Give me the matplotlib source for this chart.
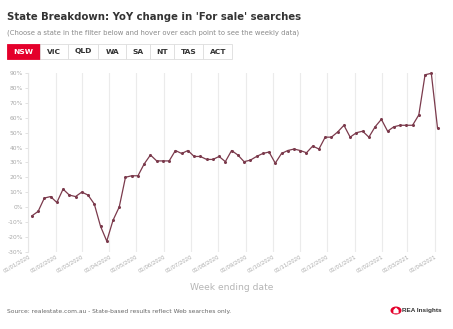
"""State breakdown: YoY change in 'For sale' searches (NSW)"""

import datetime as dt

import matplotlib.dates as mdates
import matplotlib.pyplot as plt
from matplotlib.patches import Rectangle, Circle, Polygon
from matplotlib.ticker import FuncFormatter

# weekly data, week ending dates start 5 Jan 2020
start_week = dt.date(2020, 1, 5)
yoy_change = [-6, -3, 6, 7, 3, 12, 8, 7, 10, 8, 2, -13, -23, -9, 0, 20, 21, 21,
              29, 35, 31, 31, 31, 38, 36, 38, 34, 34, 32, 32, 34, 30.5, 38, 35,
              30.5, 31.5, 34, 36, 37, 29.5, 36, 38, 39, 38, 36.5, 41, 39, 47,
              47, 50.5, 55, 47, 50, 51, 47, 54, 59, 51, 54, 55, 55, 55, 62, 89,
              90, 53]
weeks = [start_week + dt.timedelta(weeks=i) for i in range(len(yoy_change))]

states = ["NSW", "VIC", "QLD", "WA", "SA", "NT", "TAS", "ACT"]
y_ticks = [-30, -20, -10, 0, 10, 20, 30, 40, 50, 60, 70, 80, 90]

line_col = "#7b3a4c"
red = "#e4002b"
grey_txt = "#a8a8a8"

plt.rcParams['font.family'] = ['DejaVu Sans']

fig = plt.figure(figsize=(4.53, 3.29), dpi=100)
W, H = 453, 329


def fx(px):
    return px / W


def fy(py):
    return 1 - py / H


fig.text(fx(7), fy(17), "State Breakdown: YoY change in 'For sale' searches",
         fontsize=7.3, fontweight='bold', color='#333333', va='center')
fig.text(fx(7), fy(32.5),
         "(Choose a state in the filter below and hover over each point to see the weekly data)",
         fontsize=4.95, color='#8a8a8a', va='center')

# state filter buttons
edges = [6.7, 40, 68.3, 98.3, 126, 150, 174.3, 203.3, 232.3]
for i, st in enumerate(states):
    x0, x1 = edges[i], edges[i + 1]
    active = i == 0
    fig.patches.append(Rectangle((fx(x0), fy(58.7)), fx(x1 - x0), (58.7 - 44) / H,
                                 transform=fig.transFigure,
                                 facecolor=red if active else 'white',
                                 edgecolor=red if active else '#dddddd', lw=0.6))
    fig.text(fx((x0 + x1) / 2), fy(51.5), st, fontsize=5.4, fontweight='bold',
             color='white' if active else '#333333', ha='center', va='center')

ax = fig.add_axes([fx(28.3), fy(251.5), fx(442 - 28.3), (251.5 - 73.3) / H])
ax.plot(weeks, yoy_change, color=line_col, lw=0.9, marker='o', ms=1.2,
        clip_on=False, zorder=3)

ax.set_xlim(dt.date(2020, 1, 1), dt.date(2021, 4, 9))
ax.set_ylim(-30, 90)
ax.set_yticks(y_ticks)
ax.yaxis.set_major_formatter(FuncFormatter(lambda v, p: f"{v:.0f}%"))
ax.xaxis.set_major_locator(mdates.MonthLocator())
ax.xaxis.set_major_formatter(mdates.DateFormatter("%d/%m/%Y"))
ax.grid(axis='x', color='#ebebeb', lw=0.8)
ax.set_axisbelow(True)

for s in ['top', 'right', 'bottom']:
    ax.spines[s].set_visible(False)
ax.spines['left'].set_color('#e6e6e6')
ax.spines['left'].set_linewidth(0.8)

ax.tick_params(axis='y', labelsize=4.3, labelcolor=grey_txt, color='#dddddd',
               length=2.5, width=0.6, pad=1.5)
ax.tick_params(axis='x', labelsize=3.8, labelcolor=grey_txt, length=0, pad=2)
for lbl in ax.get_xticklabels():
    lbl.set_rotation(30)
    lbl.set_ha('right')
    lbl.set_rotation_mode('anchor')

fig.text(fx(232), fy(287.5), "Week ending date", fontsize=6.6, color='#b5b5b5',
         ha='center', va='center')
fig.text(fx(7), fy(311), "Source: realestate.com.au - State-based results reflect Web searches only.",
         fontsize=4.3, color='#666666', va='center')

# REA Insights logo
cx, cy, r = 396, 310.5, 5.5
fig.patches.append(Circle((fx(cx), fy(cy)), r / W, transform=fig.transFigure,
                          facecolor=red, edgecolor='none'))
house = [(cx - 2.6, cy + 2.8), (cx - 2.6, cy - 0.5), (cx, cy - 3),
         (cx + 2.6, cy - 0.5), (cx + 2.6, cy + 2.8)]
fig.patches.append(Polygon([(fx(a), fy(b)) for a, b in house], closed=True,
                           transform=fig.transFigure, facecolor='white',
                           edgecolor='none'))
fig.text(fx(402.5), fy(310.5), "REA Insights", fontsize=4.6, fontweight='bold',
         family=['Liberation Sans'], color='#333333', va='center')

fig.savefig("out.png", dpi=100, facecolor='white')
